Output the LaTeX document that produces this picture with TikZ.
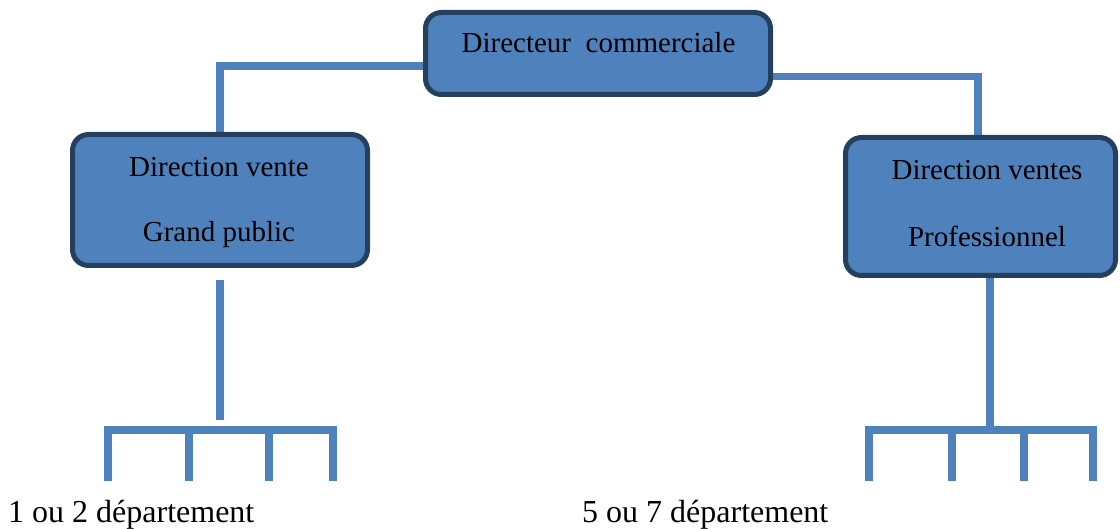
\documentclass[tikz,border=0pt]{standalone}
\usepackage{fontspec}
\setmainfont{Liberation Serif}
\usetikzlibrary{calc,backgrounds}
\definecolor{boxfill}{HTML}{4F81BD}
\definecolor{boxline}{HTML}{253F5F}
\begin{document}
\begin{tikzpicture}[x=1pt,y=-1pt,
 box/.style={draw=boxline,line width=5pt,fill=boxfill,rounded corners=16pt,inner sep=0pt},
 conn/.style={draw=boxfill,line width=7.5pt},
 lbl/.style={font=\fontsize{29}{34}\selectfont,anchor=base,inner sep=0pt},
 foot/.style={font=\fontsize{32}{38}\selectfont,anchor=base west,inner sep=0pt}]
\useasboundingbox (0,0) rectangle (1120,529);
% boxes
\node[box,minimum width=345pt,minimum height=82pt] (top) at (598,53.5) {};
\node[box,minimum width=295pt,minimum height=131pt] (left) at (220,200) {};
\node[box,minimum width=270pt,minimum height=138pt] (right) at (980.5,206.5) {};
% coordinates of the branches
\coordinate (lstem) at (220,420);
\coordinate (rstem) at (990,430);
\coordinate (lbarA) at (104.5,430);
\coordinate (lbarB) at (336.5,430);
\coordinate (rbarA) at (865.5,430);
\coordinate (rbarB) at (1096.5,430);
\foreach \n/\x in {l1/108,l2/189,l3/269,l4/333,r1/869,r2/952,r3/1024,r4/1093}{
  \coordinate (\n t) at (\x,426.5);
  \coordinate (\n b) at (\x,481);
}
% connectors (behind boxes)
\begin{pgfonlayer}{background}
\draw[conn] ($(top.west)+(0,12.5)$) -| (left.north);
\draw[conn] ($(top.east)+(0,23)$) -| ($(right.north)+(-2.5,0)$);
\draw[conn] ($(left.south)+(0,12)$) -- (lstem);
\draw[conn] (right.south -| rstem) -- (rstem);
\draw[conn] (lbarA) -- (lbarB);
\draw[conn] (rbarA) -- (rbarB);
\foreach \n in {l1,l2,l3,l4,r1,r2,r3,r4}{
  \draw[conn] (\n t) -- (\n b);
}
\end{pgfonlayer}
% texts
\node[lbl] (ttop) at (598.5,53) {Directeur\ \ commerciale};
\node[lbl] (tl1) at (219,177) {Direction vente};
\node[lbl] (tl2) at (219,242) {Grand public};
\node[lbl] (tr1) at (987,180) {Direction ventes};
\node[lbl] (tr2) at (987,247) {Professionnel};
\node[foot] (fl) at (8,522) {1 ou 2 département};
\node[foot] (fr) at (582,522) {5 ou 7 département};
\end{tikzpicture}
\end{document}
